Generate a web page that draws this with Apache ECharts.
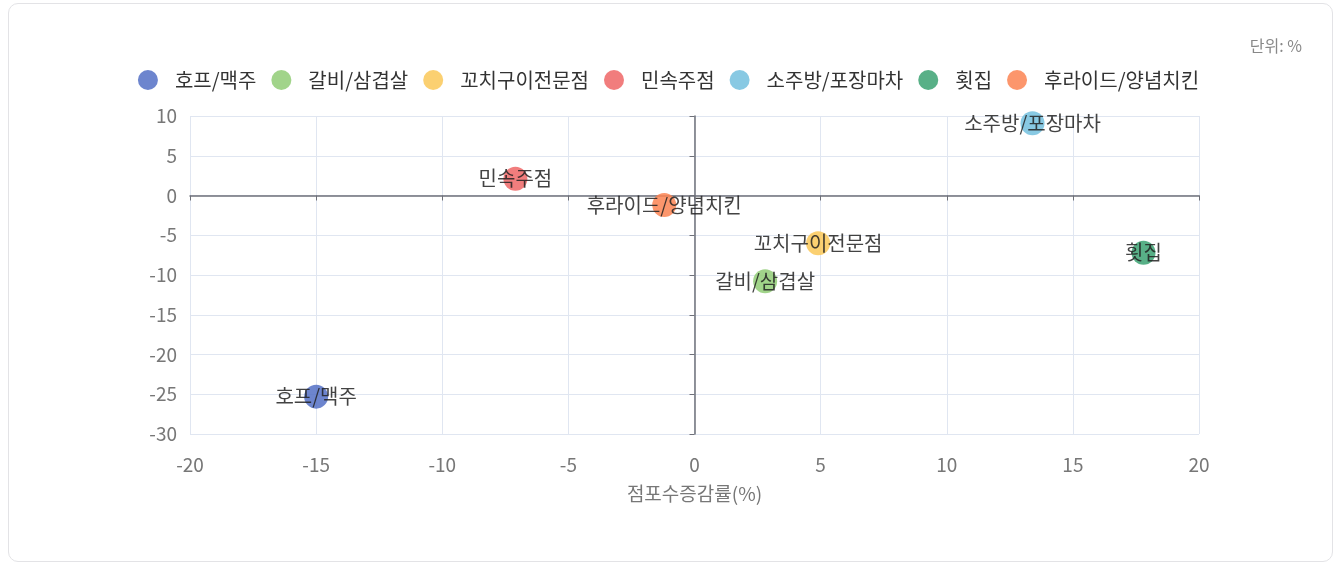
<!DOCTYPE html>
<html><head><meta charset="utf-8">
<script src="https://cdn.jsdelivr.net/npm/echarts@6/dist/echarts.min.js"></script>
<style>
html,body{margin:0;padding:0;background:#fff;width:1337px;height:562px;overflow:hidden;}
#card{position:absolute;left:8px;top:3px;width:1325px;height:559px;border:1.5px solid #e3e3e6;border-radius:10px;box-sizing:border-box;}
#unit{position:absolute;right:35px;top:33px;font-family:"Noto Sans CJK KR","Noto Sans",sans-serif;font-size:16px;color:#888;}
#chart{position:absolute;left:0;top:0;width:1337px;height:562px;}
</style></head>
<body>
<div id="card"></div>
<div id="chart"></div>
<div id="unit">단위: %</div>
<script>
const names = ['호프/맥주','갈비/삼겹살','꼬치구이전문점','민속주점','소주방/포장마차','횟집','후라이드/양념치킨'];
const xValues = [-15.0, 2.8, 4.9, -7.1, 13.4, 17.8, -1.2];
const yValues = [-25.3, -10.8, -6.0, 2.1, 9.1, -7.2, -1.2];
const colors = ['#5470c6','#91cc75','#fac858','#ee6666','#73c0de','#3ba272','#fc8452'];
const xTicks = [-20, 20, 5];
const yTicks = [-30, 10, 5];
const xName = '점포수증감률(%)';

const font = '"Noto Sans CJK KR","Noto Sans",sans-serif';
const chart = echarts.init(document.getElementById('chart'));
const series = names.map((n, i) => ({
  name: n, type: 'scatter', xAxisIndex: 0, yAxisIndex: 0,
  symbolSize: 24,
  itemStyle: {color: colors[i], opacity: 0.85},
  label: {show: true, position: 'inside', formatter: '{a}', color: '#222', fontSize: 20, fontFamily: font},
  data: [[xValues[i], yValues[i]]]
}));
chart.setOption({
  animation: false,
  color: colors,
  textStyle: {fontFamily: font},
  legend: {
    top: 65, left: 'center', icon: 'circle', itemWidth: 20, itemHeight: 20, itemGap: 15,
    textStyle: {fontSize: 20, color: '#333', fontFamily: font, padding: [0, 0, 0, 12]},
    data: names
  },
  grid: {left: 190, right: 138, top: 116, bottom: 128},
  xAxis: [
    {type: 'value', min: xTicks[0], max: xTicks[1], interval: xTicks[2], position: 'bottom',
     axisLine: {show: false, onZero: false}, axisTick: {show: false},
     axisLabel: {fontSize: 19, color: '#777', margin: 21, fontFamily: font},
     splitLine: {lineStyle: {color: '#e0e6f1'}},
     name: xName, nameLocation: 'middle', nameGap: 50,
     nameTextStyle: {fontSize: 19, color: '#777', fontFamily: font}},
    {type: 'value', min: xTicks[0], max: xTicks[1], interval: xTicks[2], position: 'bottom',
     axisLine: {show: true, onZero: true, onZeroAxisIndex: 1, lineStyle: {color: '#6e7079', width: 1.5}},
     axisTick: {show: true, length: 5, lineStyle: {color: '#6e7079'}},
     axisLabel: {show: false}, splitLine: {show: false}}
  ],
  yAxis: [
    {type: 'value', min: yTicks[0], max: yTicks[1], interval: yTicks[2], position: 'left',
     axisLine: {show: false, onZero: false}, axisTick: {show: false},
     axisLabel: {fontSize: 19, color: '#777', margin: 13, fontFamily: font},
     splitLine: {lineStyle: {color: '#e0e6f1'}}},
    {type: 'value', min: yTicks[0], max: yTicks[1], interval: yTicks[2], position: 'left',
     axisLine: {show: true, onZero: true, onZeroAxisIndex: 1, lineStyle: {color: '#6e7079', width: 1.5}},
     axisTick: {show: true, length: 5, lineStyle: {color: '#6e7079'}},
     axisLabel: {show: false}, splitLine: {show: false}}
  ],
  series: series
});
</script>
</body></html>
